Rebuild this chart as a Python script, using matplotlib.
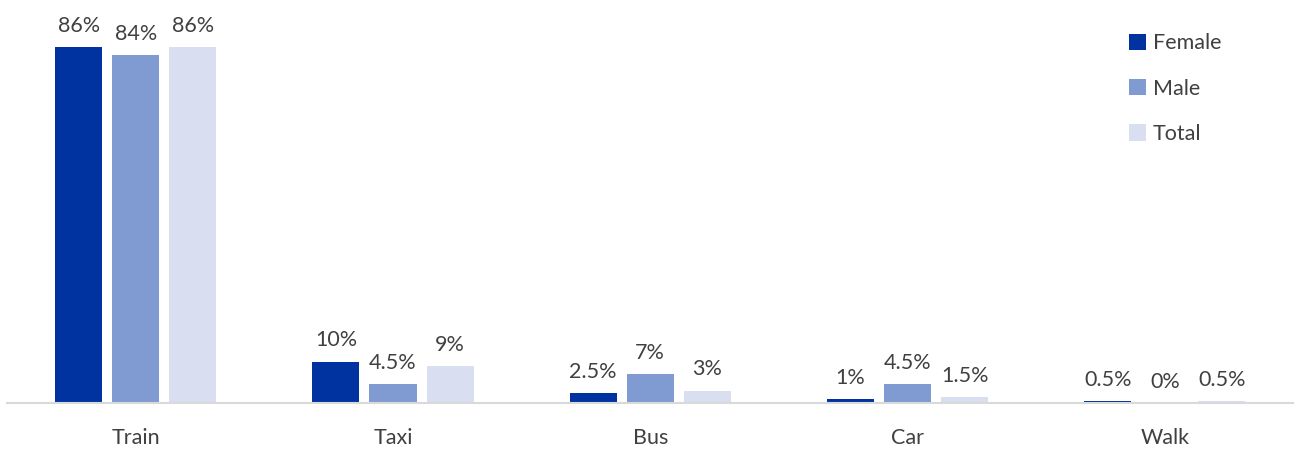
import numpy as np
import matplotlib.pyplot as plt
from matplotlib.patches import Patch

plt.rcParams['font.family'] = ['Lato', 'DejaVu Sans']

# Mode of transport share by gender (%)
modes = ['Train', 'Taxi', 'Bus', 'Car', 'Walk']
female = [86, 10, 2.5, 1, 0.5]
male = [84, 4.5, 7, 4.5, 0]
total = [86, 9, 3, 1.5, 0.5]

series = [('Female', female, '#0033a0'),
          ('Male', male, '#7f9bd2'),
          ('Total', total, '#d9dff0')]

text_col = '#404040'
fs = 15.5
bar_w = 0.183
step = 0.222

fig = plt.figure(figsize=(12.96, 4.49), dpi=100)
ax = fig.add_axes([0.0055, 0.1024, 0.9925, 0.8976])

x = np.arange(len(modes))
for i, (name, vals, col) in enumerate(series):
    pos = x + (i - 1) * step
    bars = ax.bar(pos, vals, width=bar_w, color=col, label=name, zorder=2)
    for b, v in zip(bars, vals):
        ax.annotate(f'{v:g}%', (b.get_x() + b.get_width() / 2, v),
                    xytext=(0, 8), textcoords='offset points',
                    ha='center', va='bottom', fontsize=fs, color=text_col)

ax.set_xlim(-0.5, len(modes) - 0.5)
ax.set_ylim(0, 97.3)
ax.set_xticks(x)
ax.set_xticklabels(modes, fontsize=fs, color=text_col)
ax.tick_params(axis='x', length=0, pad=18)
ax.set_yticks([])
for s in ['top', 'right', 'left']:
    ax.spines[s].set_visible(False)
ax.spines['bottom'].set_color('#d9d9d9')
ax.spines['bottom'].set_linewidth(1.5)
ax.spines['bottom'].set_zorder(3)

handles = [Patch(facecolor=c, label=n) for n, _, c in series]
leg = ax.legend(handles=handles, loc='upper left', bbox_to_anchor=(0.857, 0.965),
                frameon=False, fontsize=fs, handlelength=0.8, handleheight=0.8,
                handletextpad=0.3, labelspacing=1.17)
for t in leg.get_texts():
    t.set_color(text_col)

fig.savefig('out.png', dpi=100)
